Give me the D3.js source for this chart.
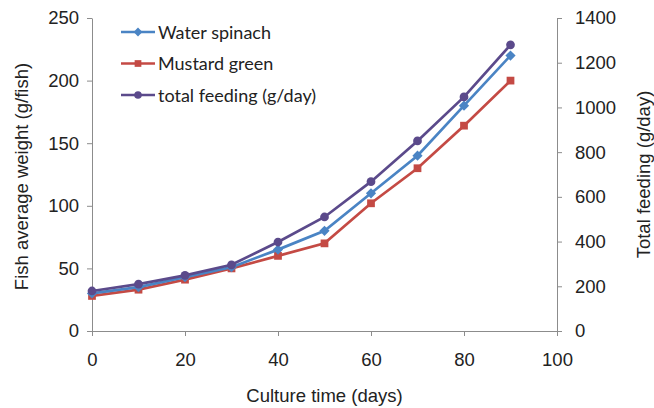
<!DOCTYPE html>
<html>
<head>
<meta charset="utf-8">
<script src="https://cdn.jsdelivr.net/npm/d3@7"></script>
<style>
  body { margin: 0; background: #fff; }
</style>
</head>
<body>
<div id="board"></div>
<script>
// data
var days = [0, 10, 20, 30, 40, 50, 60, 70, 80, 90];
var waterSpinach = [30, 35, 43, 51, 65, 80, 110, 140, 180, 220];
var mustardGreen = [28, 33, 41, 50, 60, 70, 102, 130, 164, 200];
var totalFeeding = [179, 210, 249, 296, 398, 510, 668, 850, 1047, 1280];

var xTicks = [0, 20, 40, 60, 80, 100];
var leftTicks = [0, 50, 100, 150, 200, 250];
var rightTicks = [0, 200, 400, 600, 800, 1000, 1200, 1400];

var W = 654, H = 408;
var m = {left: 92, right: 97, top: 18, bottom: 77};
var FONT = "Arial, 'Liberation Sans', Helvetica, sans-serif";
var FS = 18.5;

var svg = d3.select("#board").append("svg")
    .attr("width", W).attr("height", H);

var x = d3.scaleLinear().domain([0, 100]).range([m.left, W - m.right]);
var yL = d3.scaleLinear().domain([0, 250]).range([H - m.bottom, m.top]);
var yR = d3.scaleLinear().domain([0, 1400]).range([H - m.bottom, m.top]);

var axisColor = "#8c8c8c";

function styleAxis(g) {
    g.attr("font-family", null);
    g.selectAll("path, line").attr("stroke", axisColor);
    g.selectAll("text")
        .style("font-family", FONT)
        .style("font-size", FS + "px")
        .attr("fill", "#222");
}

svg.append("g")
    .attr("transform", "translate(0," + (H - m.bottom) + ")")
    .call(d3.axisBottom(x).tickValues(xTicks).tickFormat(d3.format("d"))
        .tickSize(5).tickSizeOuter(0).tickPadding(17))
    .call(styleAxis);

svg.append("g")
    .attr("transform", "translate(" + m.left + ",0)")
    .call(d3.axisLeft(yL).tickValues(leftTicks).tickFormat(d3.format("d"))
        .tickSize(5).tickSizeOuter(0).tickPadding(8))
    .call(styleAxis);

svg.append("g")
    .attr("transform", "translate(" + (W - m.right) + ",0)")
    .call(d3.axisRight(yR).tickValues(rightTicks).tickFormat(d3.format("d"))
        .tickSize(5).tickSizeOuter(0).tickPadding(13))
    .call(styleAxis);

// axis titles
function title(sel) {
    sel.attr("text-anchor", "middle")
        .style("font-family", FONT)
        .style("font-size", FS + "px")
        .attr("fill", "#222");
}

svg.append("text")
    .attr("x", (m.left + W - m.right) / 2).attr("y", 402)
    .call(title)
    .text("Culture time (days)");

svg.append("text")
    .attr("transform", "translate(28," + ((m.top + H - m.bottom) / 2 + 2) + ") rotate(-90)")
    .call(title)
    .text("Fish average weight (g/fish)");

svg.append("text")
    .attr("transform", "translate(650," + ((m.top + H - m.bottom) / 2) + ") rotate(-90)")
    .call(title)
    .text("Total feeding (g/day)");

// diamonds are squares turned by 45 degrees
var series = [
    {name: "Water spinach", values: waterSpinach, y: yL, color: "#4a84c4", shape: d3.symbolSquare, size: 52, rot: 45},
    {name: "Mustard green", values: mustardGreen, y: yL, color: "#c44a44", shape: d3.symbolSquare, size: 60, rot: 0},
    {name: "total feeding (g/day)", values: totalFeeding, y: yR, color: "#5b4a8b", shape: d3.symbolCircle, size: 60, rot: 0}
];

// red first, then blue, purple on top
[series[1], series[0], series[2]].forEach(function(s) {
    var line = d3.line()
        .x(function(d, i) { return x(days[i]); })
        .y(function(d) { return s.y(d); });

    svg.append("path")
        .datum(s.values)
        .attr("d", line)
        .attr("fill", "none")
        .attr("stroke", s.color)
        .attr("stroke-width", 2.7);

    svg.selectAll(null)
        .data(s.values)
        .enter().append("path")
        .attr("d", d3.symbol().type(s.shape).size(s.size))
        .attr("transform", function(d, i) {
            return "translate(" + x(days[i]) + "," + s.y(d) + ") rotate(" + s.rot + ")";
        })
        .attr("fill", s.color);
});

// legend
var legend = svg.append("g").attr("transform", "translate(121,32)");
series.forEach(function(s, i) {
    var g = legend.append("g").attr("transform", "translate(0," + (i * 31.5) + ")");
    g.append("line")
        .attr("x1", 0).attr("x2", 34).attr("y1", 0).attr("y2", 0)
        .attr("stroke", s.color).attr("stroke-width", 2.7);
    g.append("path")
        .attr("d", d3.symbol().type(s.shape).size(s.size * 0.75))
        .attr("transform", "translate(17,0) rotate(" + s.rot + ")")
        .attr("fill", s.color);
    g.append("text")
        .attr("x", 37).attr("y", 6.5)
        .style("font-family", "Lato, 'Open Sans', sans-serif")
        .style("font-size", "18px")
        .attr("fill", "#222")
        .text(s.name);
});
</script>
</body>
</html>
